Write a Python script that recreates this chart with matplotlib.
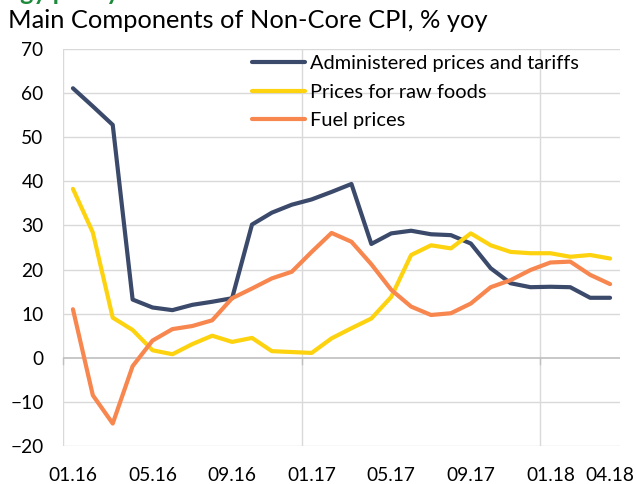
import matplotlib
matplotlib.use("Agg")
import matplotlib.pyplot as plt

plt.rcParams['font.family'] = ['Lato', 'DejaVu Sans']

months = ["01.16", "02.16", "03.16", "04.16", "05.16", "06.16", "07.16", "08.16",
          "09.16", "10.16", "11.16", "12.16", "01.17", "02.17", "03.17", "04.17",
          "05.17", "06.17", "07.17", "08.17", "09.17", "10.17", "11.17", "12.17",
          "01.18", "02.18", "03.18", "04.18"]

administered = [61.1, 57.0, 52.8, 13.2, 11.4, 10.8, 12.0, 12.7, 13.5, 30.2,
                32.9, 34.7, 35.9, 37.6, 39.4, 25.8, 28.2, 28.8, 28.0, 27.8,
                25.9, 20.3, 16.9, 16.0, 16.1, 16.0, 13.6, 13.6]
raw_foods = [38.3, 28.4, 9.1, 6.3, 1.7, 0.8, 3.1, 5.0, 3.6, 4.5,
             1.5, 1.3, 1.1, 4.4, 6.7, 8.9, 13.8, 23.3, 25.5, 24.8,
             28.2, 25.5, 24.0, 23.7, 23.7, 22.9, 23.3, 22.5]
fuel = [11.0, -8.5, -14.9, -1.9, 3.9, 6.5, 7.2, 8.5, 13.5, 15.7,
        18.0, 19.5, 24.0, 28.3, 26.3, 21.2, 15.4, 11.6, 9.7, 10.1,
        12.3, 16.0, 17.6, 19.9, 21.6, 21.8, 18.8, 16.7]

series_names = ["Administered prices and tariffs", "Prices for raw foods", "Fuel prices"]
colors = ["#3B4A6B", "#FDD20E", "#F7864F"]

label_idx = [0, 4, 8, 12, 16, 20, 24, 27]

fig = plt.figure(figsize=(6.36, 4.84), dpi=100)
ax = fig.add_axes([63/636, 1-446/484, (620-63)/636, (446-49)/484])

x = list(range(len(months)))
for vals, name, c in zip([administered, raw_foods, fuel], series_names, colors):
    ax.plot(x, vals, color=c, lw=3.0, label=name,
            solid_joinstyle='round', solid_capstyle='round')

ax.set_ylim(-20, 70)
ax.set_xlim(-0.5, len(months) - 0.5)
ax.set_yticks(range(-20, 71, 10))
ax.tick_params(axis='y', length=0, labelsize=13.8, pad=14, labelcolor='#000000')

for yv in range(-20, 71, 10):
    if yv != 0:
        ax.axhline(yv, color='#D9D9D9', lw=1.0, zorder=0)
ax.axhline(0, color='#BFBFBF', lw=1.2, zorder=0.5)
for xv in [-0.5, 11.5, 23.5]:
    ax.axvline(xv, color='#D9D9D9', lw=1.0, zorder=0)
    ax.plot([xv, xv], [0, -1.3], color='#BFBFBF', lw=1.0, zorder=0.5, clip_on=False)

ax.set_xticks(label_idx)
ax.set_xticklabels([months[i] for i in label_idx])
ax.tick_params(axis='x', length=0, labelsize=13.8, pad=15)

for s in ax.spines.values():
    s.set_visible(False)

leg = ax.legend(loc='upper left', bbox_to_anchor=((246-63)/557, 1.0), frameon=False,
                fontsize=14.4, handlelength=2.65, handletextpad=0.25, labelspacing=0.58,
                borderaxespad=0.0, borderpad=0.3)

fig.text(8/636, 1-28/484, "Main Components of Non-Core CPI, % yoy", fontsize=18.3,
         ha='left', va='baseline', color='#000000')
fig.text(-31/636, 1+0.5/484, "Energy policy", fontsize=18, fontweight='bold',
         ha='left', va='baseline', color='#1E8A3C')

fig.savefig("out.png", dpi=100)
